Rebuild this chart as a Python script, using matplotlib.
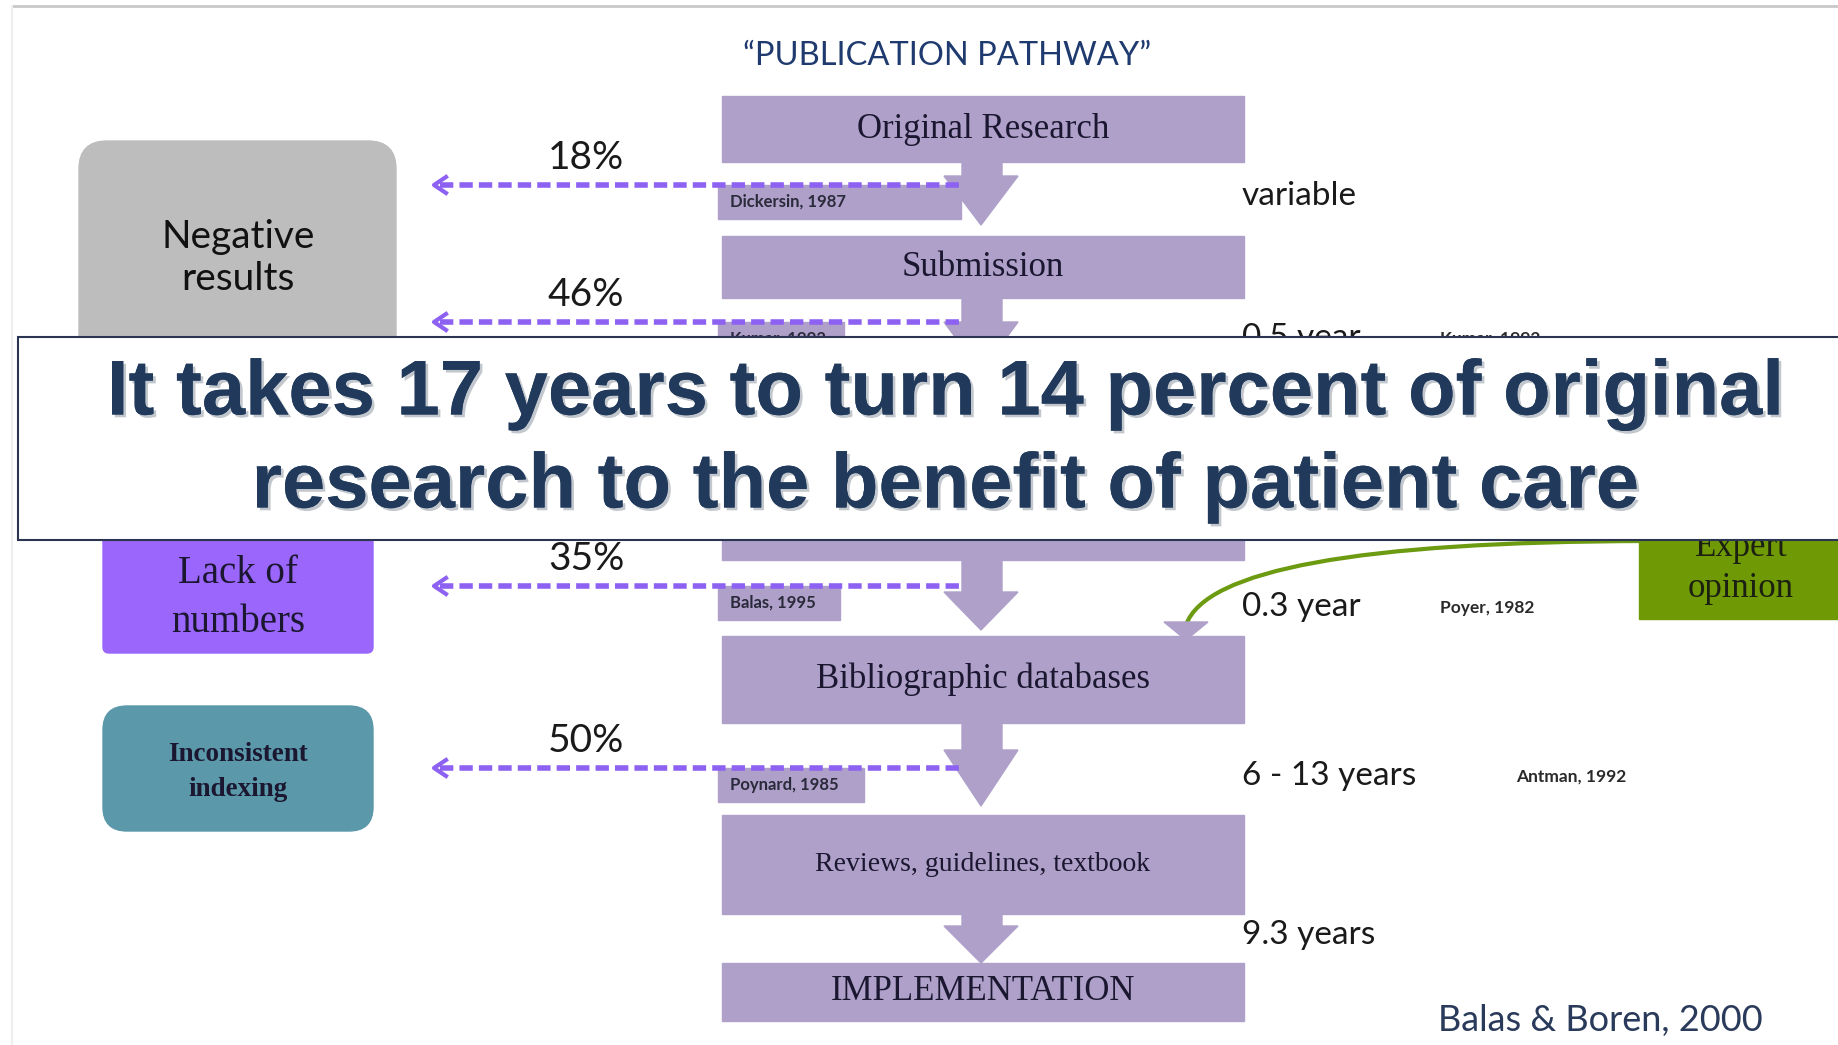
import matplotlib.pyplot as plt
import matplotlib.patheffects as pe
from matplotlib.patches import Rectangle, FancyBboxPatch, Polygon, PathPatch
from matplotlib.path import Path

# pathway stages (top to bottom) and their box extents in pixels (y0, y1)
stages = ["Original Research", "Submission", "Publication",
          "Bibliographic databases", "Reviews, guidelines, textbook", "IMPLEMENTATION"]
stage_y = [(96, 162), (236, 298), (520, 560), (636, 723), (815, 914), (963, 1021)]

# losses along the pathway
loss_pct = ["18%", "46%", "35%", "50%"]
loss_cite = ["Dickersin, 1987", "Kumar, 1992", "Balas, 1995", "Poynard, 1985"]
loss_y = [185, 322, 586, 768]
cite_w = [243, 126, 122, 146]

# time spent between steps
durations = ["variable", "0.5 year", "0.3 year", "6 - 13 years", "9.3 years"]
dur_cite = ["", "Kumar, 1992", "Poyer, 1982", "Antman, 1992", ""]
dur_y = [196, 338, 607, 776, 935]
dur_cite_x = [0, 1440, 1440, 1516, 0]

# reasons for loss (left side)
reasons = ["Negative\nresults", "Lack of\nnumbers", "Inconsistent\nindexing"]
reason_colors = ["#bdbdbd", "#9a66fb", "#5b98aa"]

LAV = "#aea0c9"
PURPLE = "#8d62f2"
NAVY = "#213a5c"

fig = plt.figure(figsize=(18.38, 10.45), dpi=100)
ax = fig.add_axes([0, 0, 1, 1])
ax.set_xlim(0, 1838)
ax.set_ylim(1045, 0)
ax.axis("off")

# slide frame
ax.plot([12, 1838], [6, 6], color="#c9c9c9", lw=2)
ax.plot([12, 12], [6, 1045], color="#eeeeee", lw=1.5)

ax.text(947, 56, "\u201cPUBLICATION PATHWAY\u201d", ha="center", va="center",
        fontsize=23.5, family="Lato", color="#1f3a6e")

# stage boxes
for name, (y0, y1) in zip(stages, stage_y):
    ax.add_patch(Rectangle((722, y0), 522, y1 - y0, color=LAV, zorder=2))
    fs = 20 if "Reviews" in name else 25
    yc = 531 if name == "Publication" else (y0 + y1) / 2
    ax.text(983, yc, name, ha="center", va="center", fontsize=fs,
            family="Liberation Serif", color="#1b1730", zorder=5)

# loss lines with citation boxes
for pct, cite, y, w in zip(loss_pct, loss_cite, loss_y, cite_w):
    ax.add_patch(Rectangle((718, y), w, 34, color=LAV, zorder=3))
    ax.text(730, y + 17, cite, ha="left", va="center", fontsize=12,
            family="Lato", fontweight="bold", color="#2a2a3a", zorder=6)
    ax.plot([440, 961], [y, y], color=PURPLE, lw=4, dashes=(2.4, 1.1), zorder=7)
    ax.plot([446, 434, 446], [y - 8, y, y + 8], color=PURPLE, lw=3, zorder=7)
    ax.text(586, y - 27, pct, ha="center", va="center", fontsize=28,
            family="Lato", color="#1a1a1a", zorder=6)

# down arrows between stages
arrows = [(162, 176, 225), (298, 322, 372), (560, 592, 630), (723, 750, 806), (914, 926, 963)]
for top, neck, tip in arrows:
    ax.add_patch(Polygon([(962, top), (1002, top), (1002, neck), (1018, neck),
                          (981, tip), (944, neck), (962, neck)],
                         closed=True, color=LAV, zorder=4))

# durations and sources
for d, c, y, cx in zip(durations, dur_cite, dur_y, dur_cite_x):
    ax.text(1242, y, d, ha="left", va="center", fontsize=24, family="Lato",
            color="#1a1a1a", zorder=6)
    if c:
        ax.text(cx, y + 1, c, ha="left", va="center", fontsize=12.5,
                family="Lato", fontweight="bold", color="#2a2a2a", zorder=6)

# reason boxes
ax.add_patch(FancyBboxPatch((79, 141), 317, 230, boxstyle="round,pad=0,rounding_size=28",
                            color=reason_colors[0], zorder=2))
ax.text(238, 258, reasons[0], ha="center", va="center", fontsize=28, family="Lato",
        color="#111111", linespacing=1.2, zorder=5)
ax.add_patch(FancyBboxPatch((103, 520), 270, 133, boxstyle="round,pad=0,rounding_size=6",
                            color=reason_colors[1], zorder=2))
ax.text(238, 598, reasons[1], ha="center", va="center", fontsize=28,
        family="Liberation Serif", color="#1b1730", linespacing=1.45, zorder=5)
ax.add_patch(FancyBboxPatch((103, 706), 270, 125, boxstyle="round,pad=0,rounding_size=24",
                            color=reason_colors[2], zorder=2))
ax.text(238, 772, reasons[2], ha="center", va="center", fontsize=19.5,
        family="Liberation Serif", fontweight="bold", color="#1b1730",
        linespacing=1.55, zorder=5)

# expert opinion with curved connector
ax.add_patch(Rectangle((1639, 520), 210, 99, color="#709a05", zorder=2))
ax.text(1741, 568, "Expert\nopinion", ha="center", va="center", fontsize=25,
        family="Liberation Serif", color="#1b2010", linespacing=1.35, zorder=5)
curve = Path([(1645, 541), (1215, 542), (1186, 625)],
             [Path.MOVETO, Path.CURVE3, Path.CURVE3])
ax.add_patch(PathPatch(curve, fill=False, edgecolor="#6c9a10", lw=3, zorder=4))
ax.add_patch(Polygon([(1164, 622), (1208, 622), (1186, 640)], closed=True,
                     color=LAV, zorder=5))

ax.text(1600, 1021, "Balas & Boren, 2000", ha="center", va="center", fontsize=26,
        family="Lato", color="#2a3a5a")

# headline banner
ax.add_patch(Rectangle((18, 337), 1840, 203, facecolor="white", edgecolor="#2b3450",
                       lw=1.5, zorder=10))
shadow = [pe.withSimplePatchShadow(offset=(2, -2), shadow_rgbFace="#9aa3ad", alpha=0.6),
          pe.Normal()]
ax.text(945, 394, "It takes 17 years to turn 14 percent of original", ha="center",
        va="center", fontsize=56, fontweight="bold", family="Liberation Sans",
        color=NAVY, zorder=11, path_effects=shadow)
ax.text(945, 487, "research to the benefit of patient care", ha="center",
        va="center", fontsize=56, fontweight="bold", family="Liberation Sans",
        color=NAVY, zorder=11, path_effects=shadow)

fig.savefig("out.png", dpi=100)
